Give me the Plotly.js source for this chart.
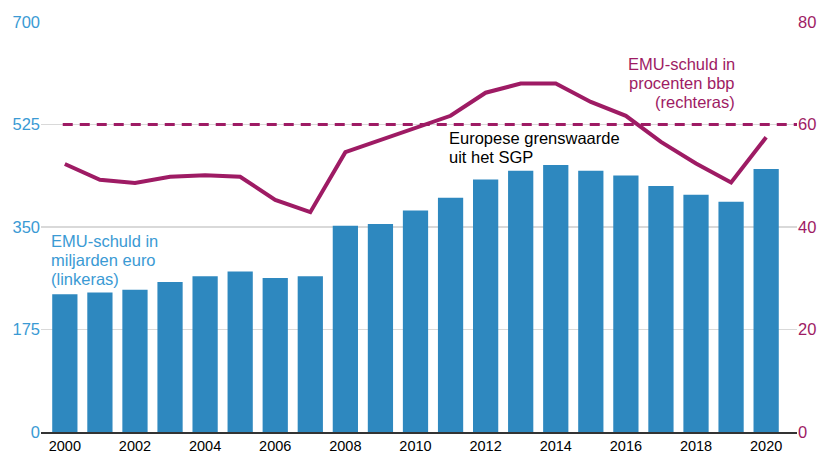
<!DOCTYPE html>
<html>
<head>
<meta charset="utf-8">
<script src="https://cdn.plot.ly/plotly-3.0.1.min.js"></script>
<style>html,body{margin:0;padding:0;background:#fff;}#chart{width:828px;height:453px;}</style>
</head>
<body>
<div id="chart"></div>
<script>
const years = [2000,2001,2002,2003,2004,2005,2006,2007,2008,2009,2010,2011,2012,2013,2014,2015,2016,2017,2018,2019,2020];
const debtBillions = [235,238,243,256,266,274,263,266,352,355,378,400,431,446,456,446,438,420,405,393,449];
const debtPctGdp = [52.3,49.2,48.6,49.8,50.1,49.8,45.3,42.9,54.6,57.0,59.5,61.7,66.2,68.0,68.0,64.4,61.7,56.6,52.4,48.7,57.5];
const sgpLimit = 60;
const leftTicks = [0,175,350,525,700];
const rightTicks = [0,20,40,60,80];
const xTicks = [2000,2002,2004,2006,2008,2010,2012,2014,2016,2018,2020];
const labelLeft = ['EMU-schuld in','miljarden euro','(linkeras)'];
const labelSgp = ['Europese grenswaarde','uit het SGP'];
const labelRight = ['EMU-schuld in','procenten bbp','(rechteras)'];

const blue = '#2E88BF';
const blueText = '#3A9AD4';
const magenta = '#9E1B64';
const xMin = 1999.32, xMax = 2020.88;
const fontMain = 'Liberation Sans, Arial, sans-serif';
const fs = 16.5;
const lineGap = 19;

const data = [
  {type:'bar', x:years, y:debtBillions, marker:{color:blue}, yaxis:'y', hoverinfo:'skip'},
  {type:'scatter', mode:'lines', x:[years[0]-0.06, xMax], y:[sgpLimit, sgpLimit], yaxis:'y2',
   line:{color:magenta, width:3, dash:'10px,7px'}, hoverinfo:'skip'},
  {type:'scatter', mode:'lines', x:years, y:debtPctGdp, yaxis:'y2',
   line:{color:magenta, width:4}, hoverinfo:'skip'}
];

function block(lines, x, y, xanchor, color) {
  return lines.map((t, i) => ({
    xref:'paper', yref:'paper', x:x, y:y, xanchor:xanchor, yanchor:'middle', align:xanchor,
    yshift:-lineGap*i, showarrow:false, text:t, font:{family:fontMain, size:fs, color:color}
  }));
}

const layout = {
  width:828, height:453,
  margin:{l:41, r:31, t:22, b:21},
  paper_bgcolor:'#fff', plot_bgcolor:'#fff',
  showlegend:false,
  bargap:0.28,
  font:{family:fontMain, size:15, color:'#000'},
  xaxis:{range:[xMin,xMax], tickvals:xTicks, ticktext:xTicks.map(String),
    showgrid:false, zeroline:false, showline:true, linecolor:'#333', linewidth:2,
    ticks:'', ticklen:0,
    tickfont:{family:fontMain, size:14.5, color:'#000'}},
  yaxis:{range:[0,700], tickvals:leftTicks, ticktext:leftTicks.map(String),
    showgrid:true, gridcolor:'#d9d9d9', gridwidth:1.5, zeroline:false, showline:false,
    ticks:'', tickfont:{size:16.5, color:blueText}},
  yaxis2:{range:[0,80], tickvals:rightTicks, ticktext:rightTicks.map(String),
    overlaying:'y', side:'right', showgrid:false, zeroline:false, showline:false,
    ticks:'', tickfont:{size:16.5, color:magenta}},
  annotations:[].concat(
    block(labelLeft, 0.0106, 0.466, 'left', blueText),
    block(labelSgp, 0.537, 0.717, 'left', '#000'),
    block(labelRight, 0.9206, 0.8976, 'right', magenta)
  )
};

Plotly.newPlot('chart', data, layout, {displayModeBar:false, staticPlot:true});
</script>
</body>
</html>
